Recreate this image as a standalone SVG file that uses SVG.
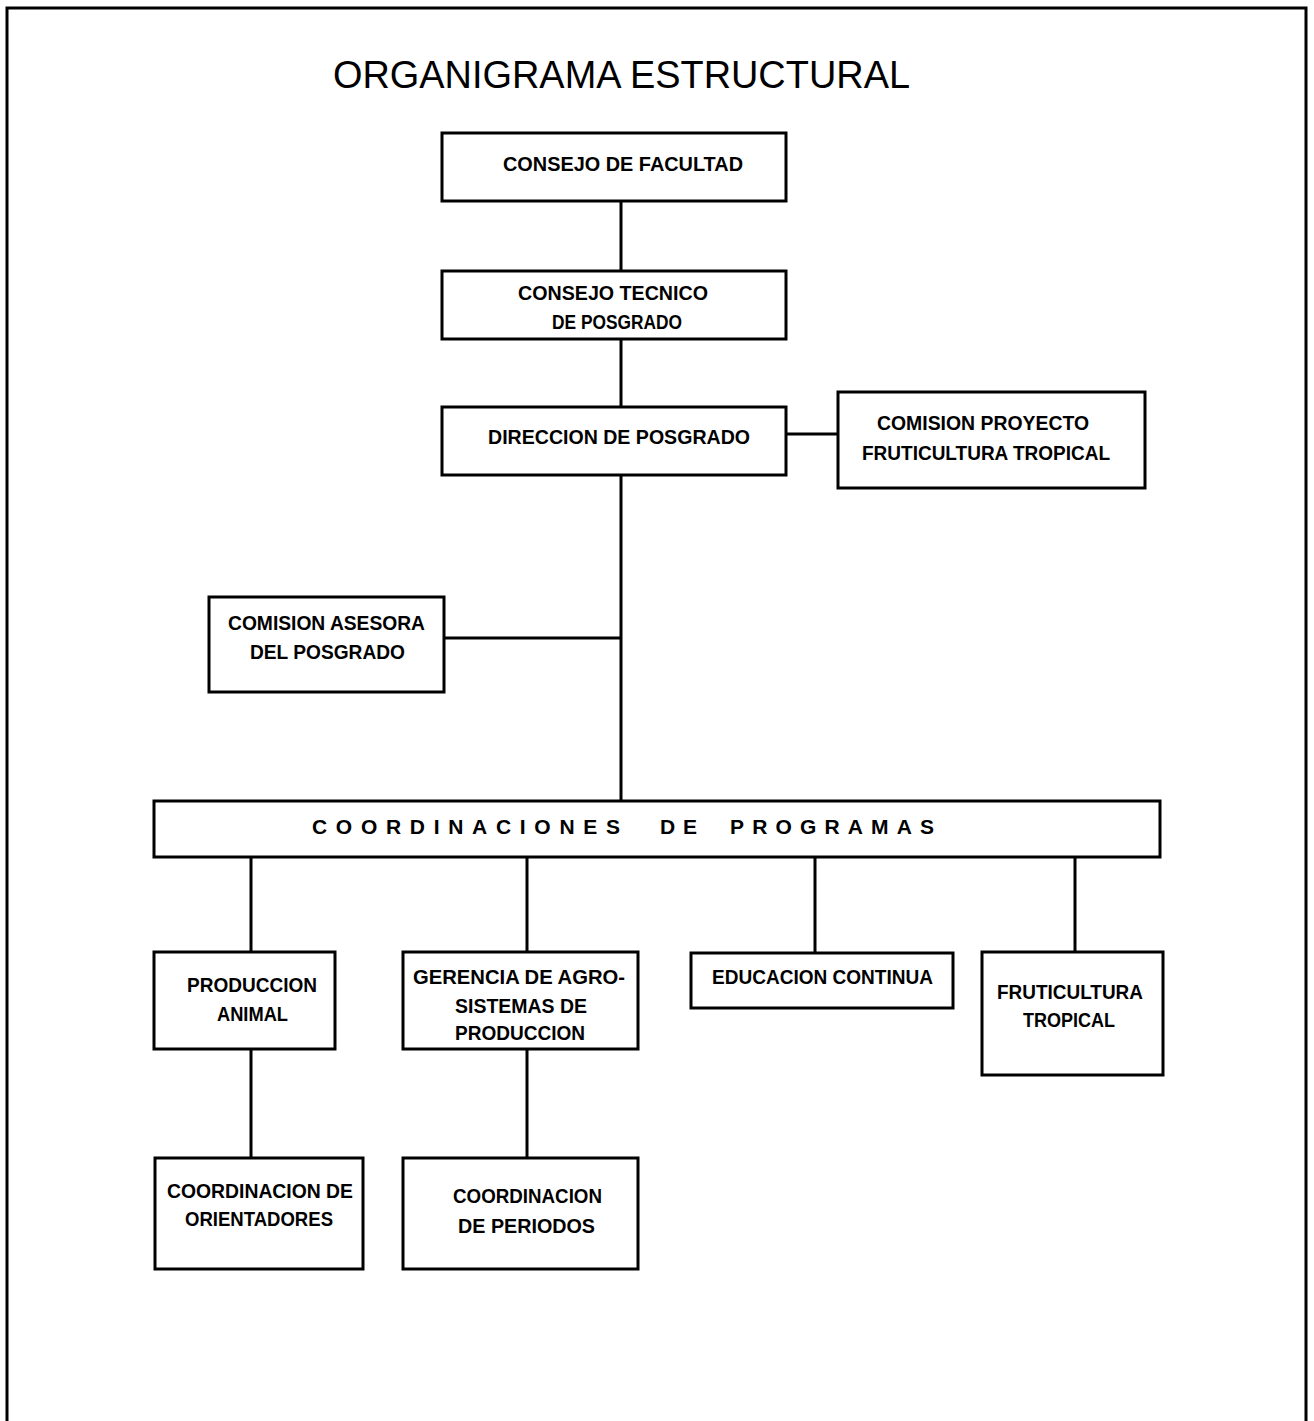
<svg xmlns="http://www.w3.org/2000/svg" width="1314" height="1421" viewBox="0 0 1314 1421">
<style>
.box{fill:#fff;stroke:#000;stroke-width:3}
.ln{stroke:#000;stroke-width:3;fill:none}
.t{font-family:"Liberation Sans",Arial,sans-serif;font-weight:bold;font-size:21px;fill:#000}
.title{font-family:"Liberation Sans",Arial,sans-serif;font-size:39px;fill:#000}
</style>
<rect width="1314" height="1421" fill="#fff"/>
<path class="ln" d="M7,1425 V8 H1306 V1425"/>
<text class="title" x="333" y="88" textLength="577" lengthAdjust="spacingAndGlyphs">ORGANIGRAMA  ESTRUCTURAL</text>
<g id="connectors">
<line class="ln" x1="621" y1="201" x2="621" y2="271"/>
<line class="ln" x1="621" y1="339" x2="621" y2="407"/>
<line class="ln" x1="621" y1="475" x2="621" y2="801"/>
<line class="ln" x1="786" y1="434" x2="838" y2="434"/>
<line class="ln" x1="443" y1="638" x2="621" y2="638"/>
<line class="ln" x1="251" y1="857" x2="251" y2="952"/>
<line class="ln" x1="527" y1="857" x2="527" y2="952"/>
<line class="ln" x1="815" y1="857" x2="815" y2="953"/>
<line class="ln" x1="1075" y1="857" x2="1075" y2="952"/>
<line class="ln" x1="251" y1="1049" x2="251" y2="1158"/>
<line class="ln" x1="527" y1="1049" x2="527" y2="1158"/>
</g>
<g id="consejo-facultad">
<rect class="box" x="442" y="133" width="344" height="68"/>
<text class="t" x="503" y="171" textLength="240" lengthAdjust="spacingAndGlyphs">CONSEJO DE FACULTAD</text>
</g>
<g id="consejo-tecnico">
<rect class="box" x="442" y="271" width="344" height="68"/>
<text class="t" x="518" y="300" textLength="190" lengthAdjust="spacingAndGlyphs">CONSEJO TECNICO</text>
<text class="t" x="552" y="329" textLength="130" lengthAdjust="spacingAndGlyphs">DE POSGRADO</text>
</g>
<g id="direccion">
<rect class="box" x="442" y="407" width="344" height="68"/>
<text class="t" x="488" y="444" textLength="262" lengthAdjust="spacingAndGlyphs">DIRECCION DE POSGRADO</text>
</g>
<g id="comision-proyecto">
<rect class="box" x="838" y="392" width="307" height="96"/>
<text class="t" x="877" y="430" textLength="212" lengthAdjust="spacingAndGlyphs">COMISION PROYECTO</text>
<text class="t" x="862" y="460" textLength="248" lengthAdjust="spacingAndGlyphs">FRUTICULTURA TROPICAL</text>
</g>
<g id="comision-asesora">
<rect class="box" x="209" y="597" width="235" height="95"/>
<text class="t" x="228" y="630" textLength="197" lengthAdjust="spacingAndGlyphs">COMISION ASESORA</text>
<text class="t" x="250" y="659" textLength="155" lengthAdjust="spacingAndGlyphs">DEL POSGRADO</text>
</g>
<g id="coordinaciones">
<rect class="box" x="154" y="801" width="1006" height="56"/>
<text class="t" x="312" y="834" textLength="308" lengthAdjust="spacing">COORDINACIONES</text>
<text class="t" x="660" y="834" textLength="37" lengthAdjust="spacing">DE</text>
<text class="t" x="730" y="834" textLength="204" lengthAdjust="spacing">PROGRAMAS</text>
</g>
<g id="produccion-animal">
<rect class="box" x="154" y="952" width="181" height="97"/>
<text class="t" x="187" y="992" textLength="130" lengthAdjust="spacingAndGlyphs">PRODUCCION</text>
<text class="t" x="217" y="1021" textLength="71" lengthAdjust="spacingAndGlyphs">ANIMAL</text>
</g>
<g id="gerencia">
<rect class="box" x="403" y="952" width="235" height="97"/>
<text class="t" x="413" y="984" textLength="212" lengthAdjust="spacingAndGlyphs">GERENCIA DE AGRO-</text>
<text class="t" x="455" y="1013" textLength="132" lengthAdjust="spacingAndGlyphs">SISTEMAS DE</text>
<text class="t" x="455" y="1040" textLength="130" lengthAdjust="spacingAndGlyphs">PRODUCCION</text>
</g>
<g id="educacion-continua">
<rect class="box" x="691" y="953" width="262" height="55"/>
<text class="t" x="712" y="984" textLength="221" lengthAdjust="spacingAndGlyphs">EDUCACION CONTINUA</text>
</g>
<g id="fruticultura-tropical">
<rect class="box" x="982" y="952" width="181" height="123"/>
<text class="t" x="997" y="999" textLength="146" lengthAdjust="spacingAndGlyphs">FRUTICULTURA</text>
<text class="t" x="1023" y="1027" textLength="92" lengthAdjust="spacingAndGlyphs">TROPICAL</text>
</g>
<g id="coord-orientadores">
<rect class="box" x="155" y="1158" width="208" height="111"/>
<text class="t" x="167" y="1198" textLength="186" lengthAdjust="spacingAndGlyphs">COORDINACION DE</text>
<text class="t" x="185" y="1226" textLength="148" lengthAdjust="spacingAndGlyphs">ORIENTADORES</text>
</g>
<g id="coord-periodos">
<rect class="box" x="403" y="1158" width="235" height="111"/>
<text class="t" x="453" y="1203" textLength="149" lengthAdjust="spacingAndGlyphs">COORDINACION</text>
<text class="t" x="458" y="1233" textLength="137" lengthAdjust="spacingAndGlyphs">DE PERIODOS</text>
</g>
</svg>
